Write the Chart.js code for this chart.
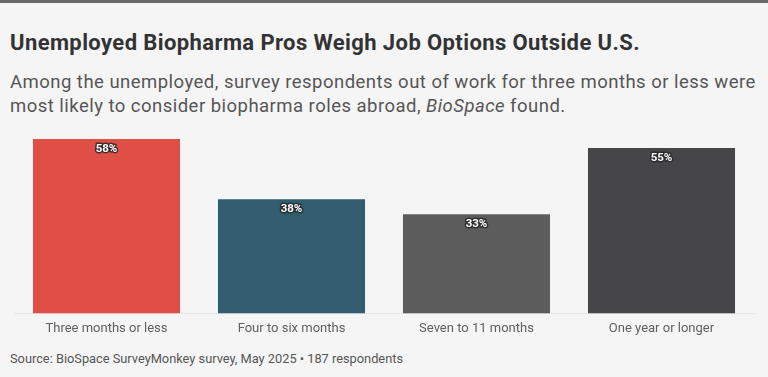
<!DOCTYPE html>
<html>
<head>
<meta charset="utf-8">
<script src="https://cdn.jsdelivr.net/npm/chart.js@4"></script>
<style>
  html, body { margin: 0; padding: 0; }
  body {
    width: 768px; height: 377px; overflow: hidden; position: relative;
    background: #f5f5f6; font-family: Roboto, "Noto Sans", sans-serif;
    border-top: 3px solid #6a6a6a; box-sizing: border-box;
  }
  #title { position: absolute; left: 10px; top: 27px; font-size: 22px; font-weight: 700; color: #333; letter-spacing: 0.4px; white-space: nowrap; }
  #subtitle { position: absolute; left: 10px; top: 67px; font-size: 18.5px; line-height: 24px; color: #555; letter-spacing: 0.47px; white-space: nowrap; }
  #source { position: absolute; left: 10px; top: 348px; font-size: 12.8px; color: #555; }
  #chartBox { position: absolute; left: 0; top: 117px; width: 768px; height: 225px; }
</style>
</head>
<body>
<div id="title">Unemployed Biopharma Pros Weigh Job Options Outside U.S.</div>
<div id="subtitle">Among the unemployed, survey respondents out of work for three months or less were<br>most likely to consider biopharma roles abroad, <i>BioSpace</i> found.</div>
<div id="chartBox"><canvas id="chart"></canvas></div>
<div id="source">Source: BioSpace SurveyMonkey survey, May 2025 • 187 respondents</div>

<script>
// data
const categories = ['Three months or less', 'Four to six months', 'Seven to 11 months', 'One year or longer'];
const shares = [58, 38, 33, 55];
const barColors = ['#df4f45', '#325c70', '#5c5c5c', '#464649'];

// label di atas bar (putih dengan outline gelap)
const valueLabels = {
  id: 'valueLabels',
  afterDatasetsDraw(chart) {
    const ctx = chart.ctx;
    const meta = chart.getDatasetMeta(0);
    ctx.save();
    ctx.font = 'bold 11.5px Roboto, sans-serif';
    ctx.textAlign = 'center';
    ctx.textBaseline = 'middle';
    ctx.lineJoin = 'round';
    meta.data.forEach((bar, i) => {
      const txt = shares[i] + '%';
      ctx.lineWidth = 3;
      ctx.strokeStyle = 'rgba(40,40,40,0.85)';
      ctx.strokeText(txt, bar.x, bar.y + 10);
      ctx.fillStyle = '#ffffff';
      ctx.fillText(txt, bar.x, bar.y + 10);
    });
    ctx.restore();
  }
};

new Chart(document.getElementById('chart'), {
  type: 'bar',
  data: {
    labels: categories,
    datasets: [{
      data: shares,
      backgroundColor: barColors,
      categoryPercentage: 1,
      barPercentage: 0.795
    }]
  },
  options: {
    responsive: true, maintainAspectRatio: false,
    animation: false,
    layout: { padding: { left: 14, right: 14, top: 13 } },
    plugins: { legend: { display: false }, tooltip: { enabled: false } },
    scales: {
      y: { display: false, min: 0, max: 60 },
      x: {
        grid: { display: false, drawTicks: false },
        border: { display: true, color: '#e6e6e8', width: 1 },
        ticks: { color: '#606060', font: { family: 'Roboto', size: 13 }, padding: 8 }
      }
    }
  },
  plugins: [valueLabels]
});
</script>
</body>
</html>
